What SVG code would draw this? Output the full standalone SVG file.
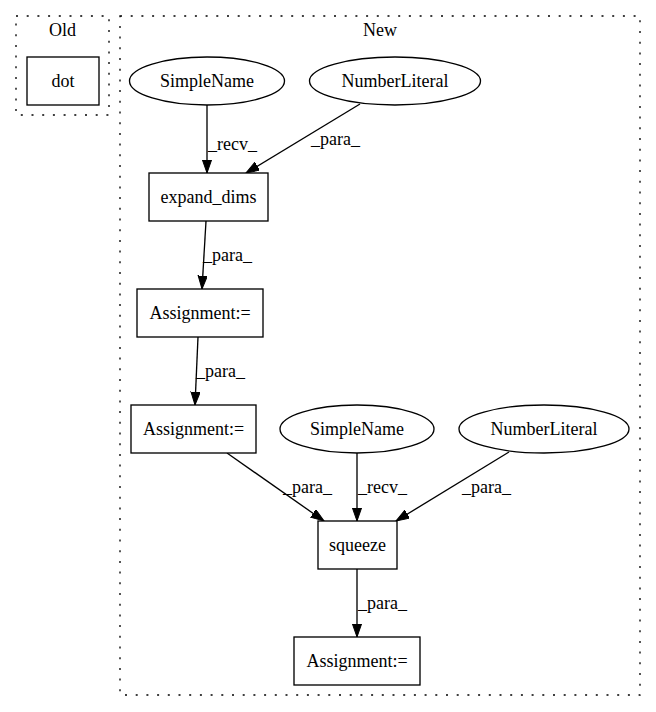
<svg xmlns="http://www.w3.org/2000/svg" width="656" height="712" viewBox="0 0 656 712">
<style>
text{font-family:"Liberation Serif","Times New Roman",serif;font-size:18px;fill:#000}
.c{text-anchor:middle}
.n{fill:#fff;stroke:#000;stroke-width:1.33}
.cl{fill:none;stroke:#000;stroke-width:1.33;stroke-dasharray:2,8.7}
.e{fill:none;stroke:#000;stroke-width:1.33}
</style>
<defs>
<marker id="ah" markerUnits="userSpaceOnUse" markerWidth="14" markerHeight="10" refX="13.3" refY="4.67" orient="auto">
<path d="M0,0 L13.3,4.67 L0,9.33 z" fill="#000" stroke="#000" stroke-width="1"/>
</marker>
</defs>
<rect width="656" height="712" fill="#fff"/>
<g id="cluster_old">
<rect class="cl" x="16" y="16" width="93" height="99"/>
<text class="c" x="62.5" y="36">Old</text>
</g>
<g id="cluster_new">
<rect class="cl" x="120" y="16" width="520" height="679"/>
<text class="c" x="380" y="36">New</text>
</g>
<g id="connectors">
<path class="e" d="M207,105 L207,173" marker-end="url(#ah)"/>
<text x="208" y="150">_recv_</text>
<path class="e" d="M360,104 L246,173" marker-end="url(#ah)"/>
<text x="311" y="145">_para_</text>
<path class="e" d="M206,221 L202,289" marker-end="url(#ah)"/>
<text x="203" y="261">_para_</text>
<path class="e" d="M198,337 L195,405" marker-end="url(#ah)"/>
<text x="196" y="377">_para_</text>
<path class="e" d="M227,453 L324,521" marker-end="url(#ah)"/>
<text x="283" y="493">_para_</text>
<path class="e" d="M357,453 L357,521" marker-end="url(#ah)"/>
<text x="358" y="493">_recv_</text>
<path class="e" d="M509,452 L396,521" marker-end="url(#ah)"/>
<text x="462" y="493">_para_</text>
<path class="e" d="M357,569 L357,637" marker-end="url(#ah)"/>
<text x="358" y="609">_para_</text>
</g>
<g id="dot">
<rect class="n" x="27" y="57" width="72" height="48"/>
<text class="c" x="63" y="87">dot</text>
</g>
<g id="simplename1">
<ellipse class="n" cx="207" cy="81" rx="77.5" ry="24"/>
<text class="c" x="207" y="87">SimpleName</text>
</g>
<g id="numberliteral1">
<ellipse class="n" cx="395" cy="81" rx="85.5" ry="24"/>
<text class="c" x="395" y="87">NumberLiteral</text>
</g>
<g id="expand_dims">
<rect class="n" x="149" y="173" width="119" height="48"/>
<text class="c" x="208.5" y="203">expand_dims</text>
</g>
<g id="assignment1">
<rect class="n" x="137" y="289" width="126" height="48"/>
<text class="c" x="200" y="319">Assignment:=</text>
</g>
<g id="assignment2">
<rect class="n" x="131" y="405" width="125" height="48"/>
<text class="c" x="193.5" y="435">Assignment:=</text>
</g>
<g id="simplename2">
<ellipse class="n" cx="357" cy="429" rx="77" ry="24"/>
<text class="c" x="357" y="435">SimpleName</text>
</g>
<g id="numberliteral2">
<ellipse class="n" cx="544" cy="429" rx="85" ry="24"/>
<text class="c" x="544" y="435">NumberLiteral</text>
</g>
<g id="squeeze">
<rect class="n" x="318" y="521" width="79" height="48"/>
<text class="c" x="357.5" y="551">squeeze</text>
</g>
<g id="assignment3">
<rect class="n" x="294" y="637" width="126" height="48"/>
<text class="c" x="357" y="667">Assignment:=</text>
</g>
</svg>
